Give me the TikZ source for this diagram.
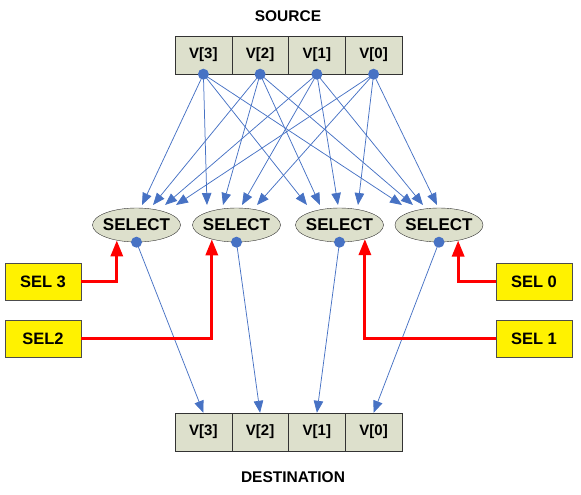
\documentclass[tikz,border=0pt]{standalone}
\usepackage{fontspec}
\setmainfont{Liberation Sans}
\usetikzlibrary{shapes.geometric,arrows.meta,calc}
\definecolor{cellfill}{RGB}{221,224,204}
\definecolor{wireblue}{RGB}{71,114,196}
\tikzset{
  cell/.style={draw=black!80, fill=cellfill, minimum width=56.75pt, minimum height=38pt,
    inner sep=0pt, font=\fontsize{15}{18}\selectfont\bfseries},
  selector/.style={ellipse, draw=black!80, fill=cellfill, minimum width=88pt, minimum height=34pt,
    inner xsep=-3pt, inner ysep=0pt, font=\fontsize{17}{20}\selectfont\bfseries},
  selbox/.style={draw=black!70, fill=yellow, minimum width=76pt, minimum height=37pt,
    inner sep=0pt, font=\fontsize{16.5}{20}\selectfont\bfseries},
  title/.style={font=\fontsize{15.5}{19}\selectfont\bfseries},
  wire/.style={wireblue, line width=0.75pt, -{Triangle[length=12pt,width=9.5pt]}},
  ctrl/.style={red, line width=3pt, -{Triangle[length=16pt,width=12pt]}}
}
\begin{document}
\begin{tikzpicture}[x=1pt,y=-1pt]
    \useasboundingbox (0,0) rectangle (581,495);

    % Registro fuente
    \node[title] (srctitle) at (288,16) {SOURCE};
    \node[cell] (src3) at (203.4,55) {V[3]};
    \node[cell] (src2) at (260.1,55) {V[2]};
    \node[cell] (src1) at (316.9,55) {V[1]};
    \node[cell] (src0) at (373.6,55) {V[0]};

    % Selectores
    \node[selector] (sel1) at (136.5,225) {SELECT};
    \node[selector] (sel2) at (236.5,225) {SELECT};
    \node[selector] (sel3) at (339.5,225) {SELECT};
    \node[selector] (sel4) at (439,225) {SELECT};

    % Registro destino
    \node[cell] (dst3) at (203.4,432) {V[3]};
    \node[cell] (dst2) at (260.1,432) {V[2]};
    \node[cell] (dst1) at (316.9,432) {V[1]};
    \node[cell] (dst0) at (373.6,432) {V[0]};
    \node[title] (dsttitle) at (293,477) {DESTINATION};

    % Entradas de control
    \node[selbox] (ctl3) at (43,281.5) {SEL 3};
    \node[selbox] (ctl2) at (43,338.5) {SEL2};
    \node[selbox] (ctl0) at (534,281.5) {SEL 0};
    \node[selbox] (ctl1) at (534,338.5) {SEL 1};

    % Fuente -> selectores
    \foreach \s/\k/\dx in {3/1/5.5, 2/1/16.5, 1/1/28.5, 0/1/39.5,
                           3/2/-29.5, 2/2/-13.5, 1/2/5.5, 0/2/20.5,
                           3/3/-32.5, 2/3/-19.5, 1/3/-1.5, 0/3/18.5,
                           3/4/-37, 2/4/-26, 1/4/-16, 0/4/-2}
        \draw[wire] (src\s.south) -- ($(sel\k.center)+(\dx,-20)$);

    % Selectores -> destino
    \foreach \k/\d in {1/3, 2/2, 3/1, 4/0}
        \draw[wire] (sel\k.south) -- (dst\d.north);

    % Control
    \draw[ctrl] (ctl3.east) -| (sel1.218);
    \draw[ctrl] (ctl2.east) -| (sel2.210);
    \draw[ctrl] (ctl1.west) -| (sel3.331);
    \draw[ctrl] (ctl0.west) -| (sel4.321);

    % Puntos
    \foreach \n in {src3,src2,src1,src0,sel1,sel2,sel3,sel4}
        \fill[wireblue] (\n.south) circle (5.5pt);
\end{tikzpicture}
\end{document}
